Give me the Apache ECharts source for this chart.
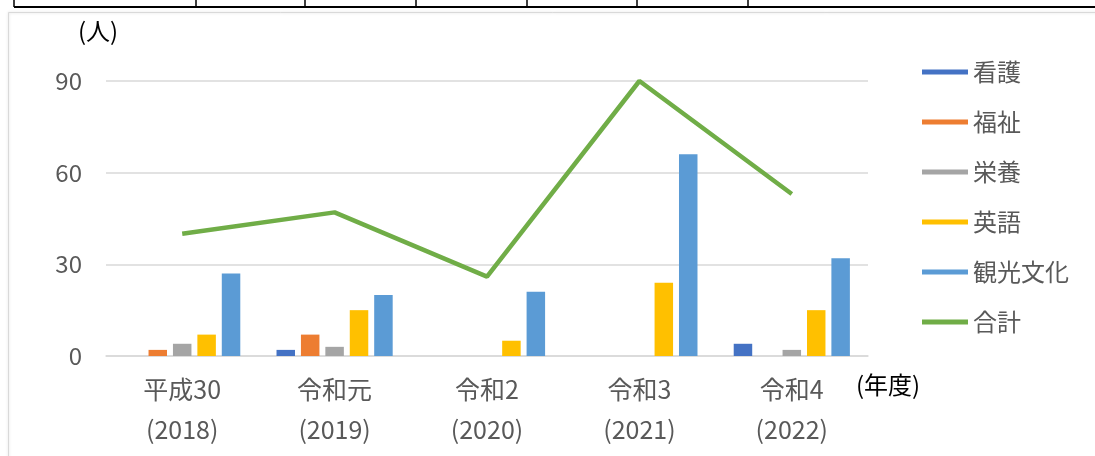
<!DOCTYPE html>
<html>
<head>
<meta charset="utf-8">
<script src="https://cdn.jsdelivr.net/npm/echarts@6/dist/echarts.min.js"></script>
<style>
  html, body { margin: 0; padding: 0; background: #fff; }
  #chart { width: 1095px; height: 456px; }
</style>
</head>
<body>
<div id="chart"></div>
<script>
// 年度
const years = ['平成30\n(2018)', '令和元\n(2019)', '令和2\n(2020)', '令和3\n(2021)', '令和4\n(2022)'];

// 学科ごとの人数
const kango = [0, 2, 0, 0, 4];
const fukushi = [2, 7, 0, 0, 0];
const eiyo = [4, 3, 0, 0, 2];
const eigo = [7, 15, 5, 24, 15];
const kanko = [27, 20, 21, 66, 32];
const total = [40, 47, 26, 90, 53];

const yTicks = [0, 30, 60, 90];

const chart = echarts.init(document.getElementById('chart'));

const font = '"Noto Sans CJK JP", "Noto Sans", sans-serif';

const bar = (name, data, color) => ({
    name: name,
    type: 'bar',
    data: data,
    barWidth: 18.5,
    barGap: '32%',
    itemStyle: { color: color },
});

// 上の表の罫線
const tableX = [14, 196, 305, 416, 527, 637, 748];
const tableLines = tableX.map((x) => ({
    type: 'line',
    shape: { x1: x, y1: 0, x2: x, y2: 7 },
    style: { stroke: '#000', lineWidth: 1.5 },
}));

const option = {
    animation: false,
    textStyle: { fontFamily: font },
    grid: { left: 106, right: 227, top: 81, bottom: 100 },
    legend: {
        orient: 'vertical',
        left: 917,
        top: 54,
        itemWidth: 46,
        itemHeight: 5,
        itemGap: 24,
        textStyle: { fontSize: 24, lineHeight: 26, color: '#595959', fontFamily: font },
        data: [
            { name: '看護', icon: 'rect' },
            { name: '福祉', icon: 'rect' },
            { name: '栄養', icon: 'rect' },
            { name: '英語', icon: 'rect' },
            { name: '観光文化', icon: 'rect' },
            { name: '合計', icon: 'rect' },
        ],
    },
    xAxis: {
        type: 'category',
        data: years,
        axisLine: { lineStyle: { color: '#d9d9d9', width: 1.5 } },
        axisTick: { show: false },
        axisLabel: {
            fontSize: 25,
            lineHeight: 40,
            color: '#595959',
            margin: 13,
            fontFamily: font,
        },
    },
    yAxis: {
        type: 'value',
        min: yTicks[0],
        max: yTicks[yTicks.length - 1],
        interval: 30,
        axisLine: { show: false },
        axisTick: { show: false },
        axisLabel: { fontSize: 24, color: '#595959', margin: 24, fontFamily: font },
        splitLine: { lineStyle: { color: '#d9d9d9', width: 1.5 } },
    },
    series: [
        bar('看護', kango, '#4472C4'),
        bar('福祉', fukushi, '#ED7D31'),
        bar('栄養', eiyo, '#A5A5A5'),
        bar('英語', eigo, '#FFC000'),
        bar('観光文化', kanko, '#5B9BD5'),
        {
            name: '合計',
            type: 'line',
            data: total,
            symbol: 'none',
            itemStyle: { color: '#70AD47' },
            lineStyle: { color: '#70AD47', width: 4.5 },
        },
    ],
    graphic: [
        {
            type: 'rect',
            shape: { x: 8.5, y: 12.5, width: 1100, height: 460 },
            style: { fill: 'none', stroke: '#d9d9d9', lineWidth: 1, shadowBlur: 3, shadowColor: 'rgba(0,0,0,0.15)' },
            z: -1,
        },
        {
            type: 'line',
            shape: { x1: 14, y1: 7, x2: 1095, y2: 7 },
            style: { stroke: '#000', lineWidth: 2 },
        },
        ...tableLines,
        {
            type: 'text',
            left: 78,
            top: 19,
            style: { text: '(人)', font: '24px ' + font, fill: '#000' },
        },
        {
            type: 'text',
            left: 856,
            top: 373,
            style: { text: '(年度)', font: '24px ' + font, fill: '#000' },
        },
    ],
};

chart.setOption(option);
</script>
</body>
</html>
